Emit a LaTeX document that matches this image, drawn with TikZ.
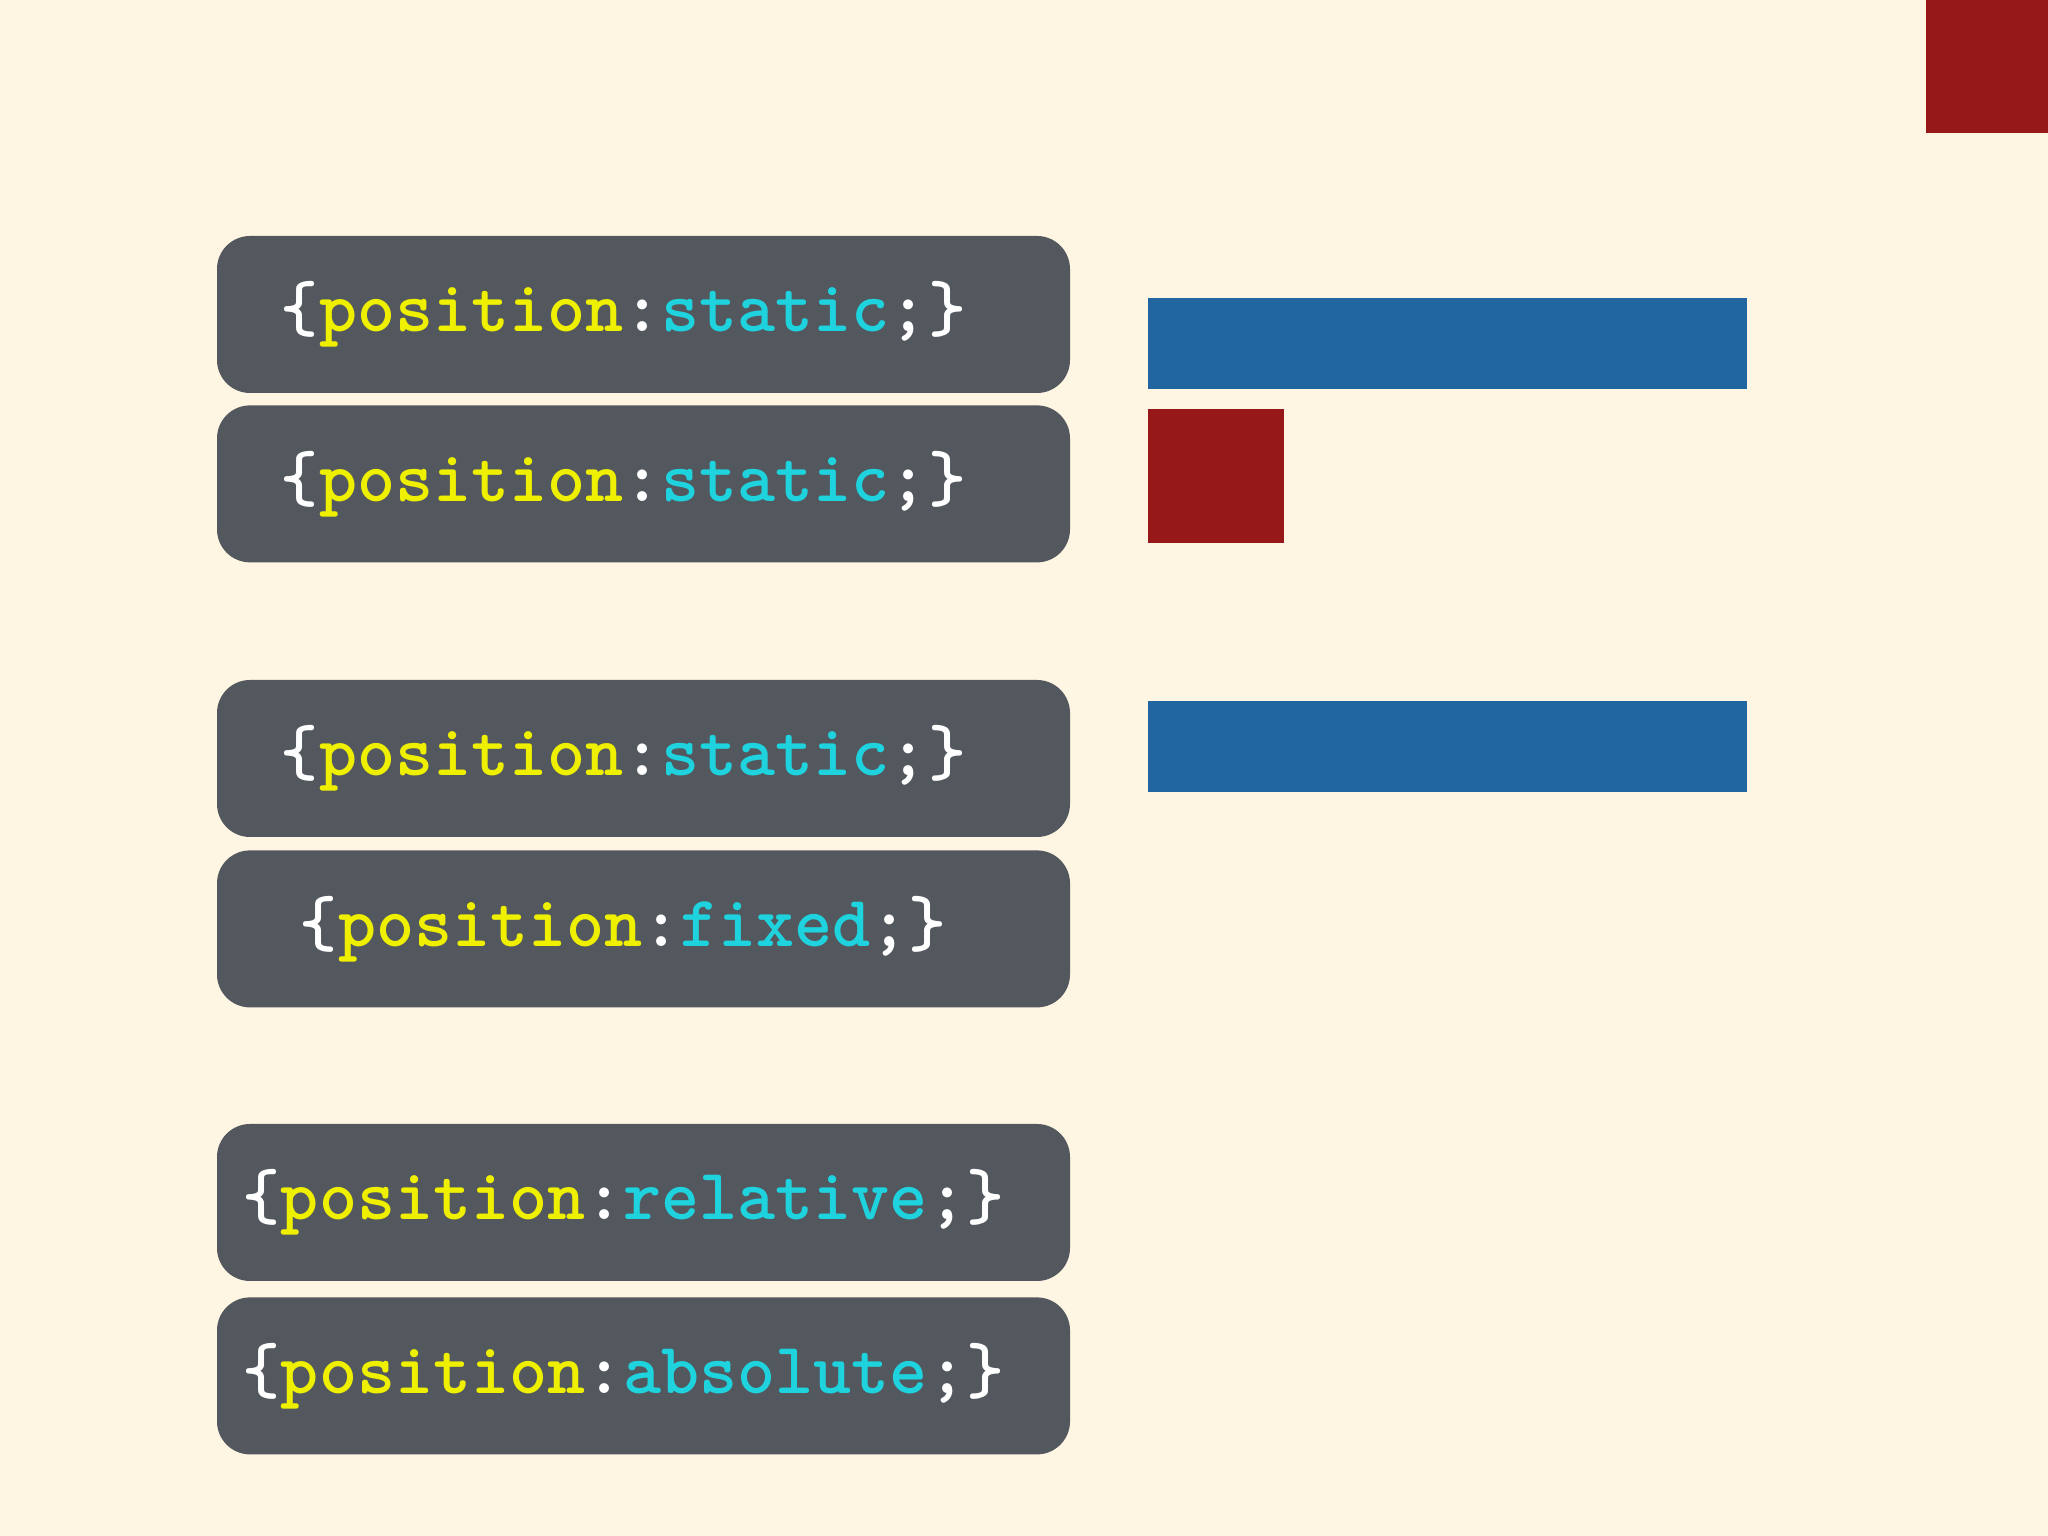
\documentclass[tikz,border=0pt]{standalone}
\usepackage{fontspec}
\usepackage{tikz}
\usetikzlibrary{positioning}
\definecolor{paper}{RGB}{255,245,227}
\definecolor{codebg}{RGB}{83,87,94}
\definecolor{propyellow}{RGB}{238,240,0}
\definecolor{valcyan}{RGB}{30,211,222}
\definecolor{boxblue}{RGB}{33,102,161}
\definecolor{boxred}{RGB}{150,24,24}
\newcommand{\cssrule}[1]{\hspace*{-40pt}\textcolor{white}{\{}\textcolor{propyellow}{position}\textcolor{white}{:}\textcolor{valcyan}{#1}\textcolor{white}{;\}}}

\begin{document}
\begin{tikzpicture}[x=1pt, y=1pt,
    code/.style={rectangle, fill=codebg, rounded corners=33pt, minimum width=853pt, minimum height=157pt, inner sep=0pt, font=\fontsize{72.5}{72.5}\selectfont\ttfamily\bfseries},
    bar/.style={rectangle, fill=boxblue, minimum width=599pt, minimum height=91pt, inner sep=0pt},
    block/.style={rectangle, fill=boxred, inner sep=0pt}
]

% Background
\fill[paper] (0,0) rectangle (2048,1536);
\useasboundingbox (0,0) rectangle (2048,1536);

% Code boxes
\node[code] (static1) at (643.5,1221.5) {\cssrule{static}};
\node[code, below=12pt of static1] (static2) {\cssrule{static}};
\node[code] (static3) at (643.5,777.5) {\cssrule{static}};
\node[code, below=13pt of static3] (fixed) {\cssrule{fixed}};
\node[code] (relative) at (643.5,333.5) {\cssrule{relative}};
\node[code, below=16pt of relative] (absolute) {\cssrule{absolute}};

% Boxes on the right
\node[bar] (bar1) at (1447.5,1192.5) {};
\node[block, minimum width=136pt, minimum height=134pt, below=20pt of bar1.south west, anchor=north west] (square) {};
\node[bar] (bar2) at (1447.5,789) {};
\node[block, minimum width=122pt, minimum height=133pt, anchor=north east] (corner) at (2048,1536) {};

\end{tikzpicture}
\end{document}
